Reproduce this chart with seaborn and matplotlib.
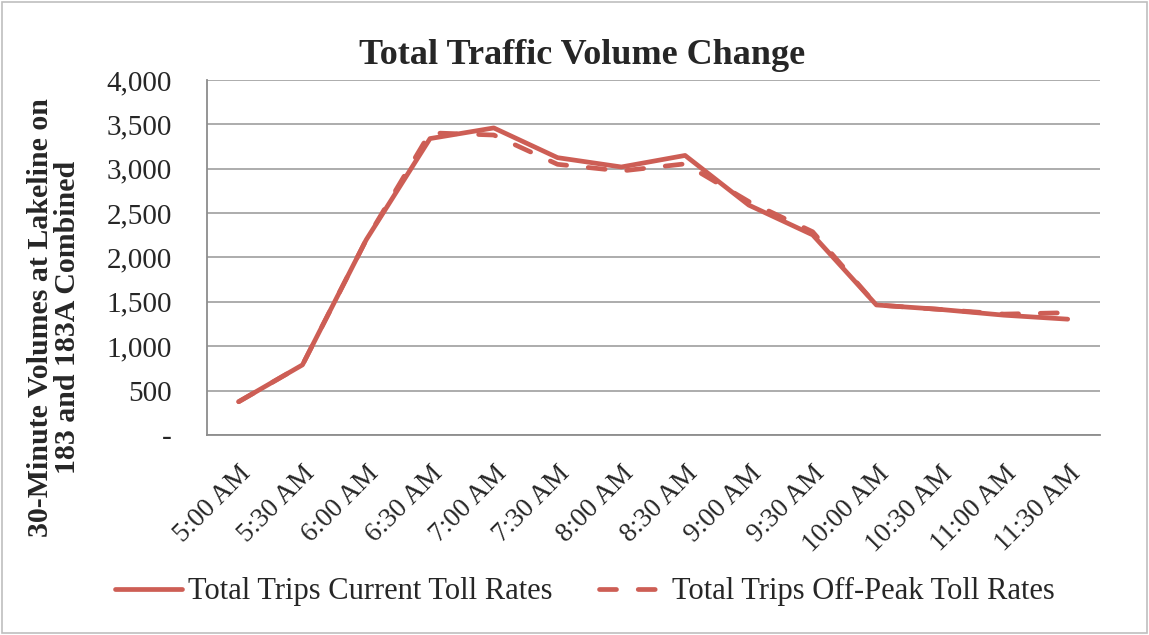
import matplotlib
matplotlib.use("Agg")
import matplotlib.pyplot as plt
import matplotlib.transforms as mtransforms
from matplotlib.patches import Rectangle
from matplotlib.ticker import FuncFormatter, FixedLocator
import seaborn as sns
import pandas as pd

times = ["5:00 AM", "5:30 AM", "6:00 AM", "6:30 AM", "7:00 AM", "7:30 AM", "8:00 AM",
         "8:30 AM", "9:00 AM", "9:30 AM", "10:00 AM", "10:30 AM", "11:00 AM", "11:30 AM"]
current_rates = [375, 790, 2200, 3340, 3460, 3125, 3020, 3150, 2590, 2255, 1465, 1415, 1350, 1305]
offpeak_rates = [375, 790, 2200, 3405, 3380, 3050, 2975, 3055, 2630, 2290, 1465, 1415, 1362, 1378]
series_names = ["Total Trips Current Toll Rates", "Total Trips Off-Peak Toll Rates"]

color = "#CD5E55"
lw = 3.4
dash = (3.6, 4.6)

df = pd.DataFrame({
    "time": times * 2,
    "pos": list(range(len(times))) * 2,
    "volume": current_rates + offpeak_rates,
    "series": [series_names[0]] * len(times) + [series_names[1]] * len(times),
})

sns.set_style("white")
plt.rcParams["font.family"] = ["Liberation Serif", "DejaVu Serif"]

fig = plt.figure(figsize=(11.49, 6.35), dpi=100)
ax = fig.add_axes([0.180, 0.315, 0.777, 0.559])

sns.lineplot(
    data=df, x="pos", y="volume", style="series",
    dashes={series_names[0]: "", series_names[1]: dash},
    color=color, linewidth=lw, ax=ax, legend=False,
)
for line in ax.lines:
    line.set_solid_capstyle("round")
    line.set_dash_capstyle("round")
    line.set_solid_joinstyle("round")

ax.set_xlim(-0.5, len(times) - 0.5)
ax.set_ylim(0, 4000)
ax.set_yticks(range(0, 4001, 500))
ax.yaxis.set_major_formatter(FuncFormatter(lambda v, p: "-" if v == 0 else f"{int(v):,}"))
ax.yaxis.grid(True, color="#A6A6A6", linewidth=1.3)
ax.set_axisbelow(True)

# category labels under the centres, tick marks on the boundaries
ax.set_xticks(range(len(times)))
ax.set_xticklabels(times, rotation=45, ha="right", rotation_mode="anchor")
offset = mtransforms.ScaledTranslation(0.0, 0.0, fig.dpi_scale_trans)
for lbl in ax.get_xticklabels():
    lbl.set_transform(lbl.get_transform() + offset)
ax.xaxis.set_minor_locator(FixedLocator([i - 0.5 for i in range(len(times) + 1)]))
ax.tick_params(axis="x", which="major", length=0, labelsize=19.5, pad=19)
ax.tick_params(axis="x", which="minor", length=7, color="#8C8C8C", width=1.3, direction="out")
ax.tick_params(axis="y", which="major", length=7, color="#8C8C8C", width=1.3, labelsize=21, pad=18)
ax.set_xlabel("")
ax.set_ylabel("")

for side in ["top", "right"]:
    ax.spines[side].set_visible(False)
for side in ["left", "bottom"]:
    ax.spines[side].set_color("#8C8C8C")
    ax.spines[side].set_linewidth(1.3)

fig.text(0.507, 0.912, "Total Traffic Volume Change", ha="center", va="center",
         fontsize=26, fontweight="bold")
fig.text(0.047, 0.50, "30-Minute Volumes at Lakeline on\n183 and 183A Combined",
         ha="center", va="center", rotation=90, fontsize=21.5, fontweight="bold",
         linespacing=1.0)

handles = [
    plt.Line2D([], [], color=color, linewidth=lw, solid_capstyle="round"),
    plt.Line2D([], [], color=color, linewidth=lw, dashes=dash, dash_capstyle="round"),
]
fig.legend(handles, series_names, loc="center", bbox_to_anchor=(0.509, 0.068), ncol=2,
           frameon=False, fontsize=22, handlelength=2.2, handletextpad=0.2,
           columnspacing=1.5)

fig.patches.append(Rectangle((0.002, 0.003), 0.996, 0.994, transform=fig.transFigure,
                             fill=False, edgecolor="#BFBFBF", linewidth=1.2))

fig.savefig("out.png", dpi=100)
